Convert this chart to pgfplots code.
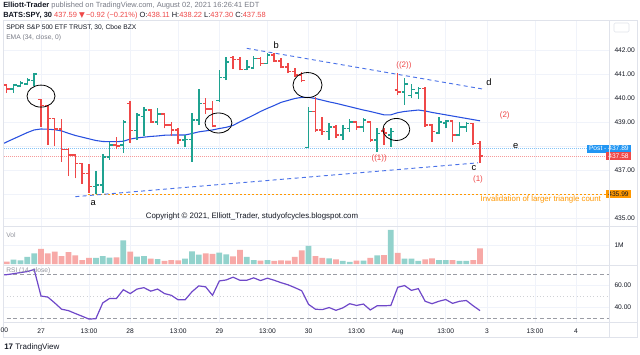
\documentclass[border=0pt]{standalone}
\usepackage{pgfplots}
\pgfplotsset{compat=1.18}
\usepackage{pgfplotstable}
\usepackage{fontspec}
\setmainfont{Liberation Sans}
\newfontfamily\dejavu{DejaVu Sans}

\definecolor{upc}{HTML}{1FA290}
\definecolor{dnc}{HTML}{EF4848}
\definecolor{vup}{HTML}{92D2CC}
\definecolor{vdn}{HTML}{F7A9A7}
\definecolor{emac}{HTML}{2850E0}
\definecolor{trendc}{HTML}{4A72E8}
\definecolor{rsic}{HTML}{6F48C9}
\definecolor{gridc}{HTML}{F0F3FA}
\definecolor{framec}{HTML}{E0E3EB}
\definecolor{txtc}{HTML}{131722}
\definecolor{grayc}{HTML}{787B86}
\definecolor{orc}{HTML}{FF9800}
\definecolor{postc}{HTML}{2196F3}

\newcommand\tvs{\fontsize{5}{6}\selectfont}
\newcommand\tvh{\fontsize{5.6}{6.6}\selectfont}
\newcommand\tvc{\fontsize{5.9}{6.9}\selectfont}
\newcommand\tva{\fontsize{7}{8}\selectfont}
\newcommand\tvr{\fontsize{6}{7}\selectfont}

\pgfdeclareplotmark{otick}{%
  \pgfpathmoveto{\pgfqpoint{-\pgfplotmarksize}{0pt}}%
  \pgfpathlineto{\pgfqpoint{0pt}{0pt}}%
  \pgfusepathqstroke}
\pgfdeclareplotmark{ctick}{%
  \pgfpathmoveto{\pgfqpoint{0pt}{0pt}}%
  \pgfpathlineto{\pgfqpoint{\pgfplotmarksize}{0pt}}%
  \pgfusepathqstroke}
\pgfdeclareplotmark{nomark}{}

% rising bars: index, open, high, low, close, volume (M)
\pgfplotstableread{
i o h l c v
-4 440.37 440.58 440.21 440.54 0.23
-3 440.50 440.72 440.45 440.62 0.19
-2 440.58 440.83 440.54 440.75 0.37
-1 440.72 441.05 440.50 441.00 0.56
8 436.31 436.96 435.99 436.38 0.32
9 436.38 437.65 436.03 437.55 0.42
10 437.55 438.18 437.42 438.04 0.33
12 438.05 439.08 437.72 439.01 1.25
14 438.64 439.36 438.25 439.29 0.39
15 439.22 439.61 438.42 439.50 0.42
17 439.01 439.57 438.88 439.33 0.26
21 438.25 438.46 437.94 438.28 0.28
22 438.28 439.36 437.35 439.08 0.67
23 439.08 440.36 438.88 439.78 0.49
26 439.90 441.15 439.85 440.85 0.60
27 440.85 441.70 440.75 441.50 0.51
30 441.20 441.58 441.15 441.30 0.37
31 441.25 441.75 441.20 441.65 0.21
33 441.45 441.86 441.42 441.80 0.21
39 437.93 439.64 437.90 439.43 0.95
42 438.60 438.94 438.25 438.80 0.30
44 438.46 438.88 438.25 438.74 0.16
45 438.74 439.11 438.60 439.00 0.11
47 438.80 439.15 438.60 439.08 0.18
49 438.25 438.74 437.76 438.53 0.46
51 438.45 438.74 437.97 438.60 1.79
53 440.26 440.82 439.71 440.58 0.28
54 440.10 440.60 440.00 440.35 0.28
55 440.20 440.45 439.95 440.40 0.16
58 438.55 439.19 438.50 439.01 0.21
59 438.95 439.10 438.75 439.05 0.21
61 438.46 439.01 438.40 438.80 0.16
62 438.80 439.01 438.60 438.94 0.16
}\upbars

% falling bars
\pgfplotstableread{
i o h l c v
-5 440.54 440.58 440.20 440.37 0.12
0 439.94 439.96 438.80 439.68 0.79
1 439.68 439.70 438.04 439.15 0.56
2 439.15 439.17 438.00 438.70 0.65
3 438.70 439.12 437.35 437.86 0.42
4 437.86 437.90 436.75 437.62 0.63
5 437.62 437.65 436.65 437.28 0.46
6 437.28 437.28 436.42 436.86 0.21
7 436.86 437.25 436.06 436.31 0.32
11 438.04 438.39 437.86 438.00 0.35
13 439.78 439.88 438.14 438.64 0.65
16 439.50 439.53 438.97 439.01 0.28
18 439.33 439.36 438.74 438.88 0.16
19 438.88 439.01 438.42 438.67 0.21
20 438.67 438.74 438.08 438.25 0.19
24 439.78 439.99 439.35 439.55 0.56
25 439.55 439.88 438.78 438.83 0.53
28 441.70 441.75 441.20 441.60 0.40
29 441.60 441.72 441.15 441.20 0.74
32 441.65 441.72 441.35 441.45 0.18
34 441.80 441.86 441.50 441.55 0.16
35 441.55 441.65 441.24 441.30 0.19
36 441.30 441.44 441.03 441.10 0.18
37 441.10 441.24 440.89 440.95 0.37
38 440.95 441.10 440.65 440.72 0.72
40 439.43 440.05 438.60 438.67 0.42
41 438.67 439.22 438.46 438.60 0.32
43 438.80 438.88 438.32 438.46 0.25
46 439.00 439.05 438.67 438.80 0.18
48 439.00 439.05 438.18 438.25 0.32
50 438.62 438.74 438.04 438.55 0.47
52 440.33 441.03 440.12 440.26 0.58
56 440.40 440.45 438.80 438.88 0.25
57 438.88 438.90 438.18 438.60 0.30
60 439.05 439.10 438.18 438.46 0.21
63 438.94 438.97 438.05 438.11 0.21
64 438.11 438.22 437.30 437.58 0.82
}\dnbars

% EMA(34) and RSI(14)
\pgfplotstableread{
i ema rsi
-6 438.03 68.9
-5 438.17 69.4
-4 438.30 70.3
-3 438.43 71.3
-2 438.56 72.2
-1 438.67 74.1
0 438.71 50.0
1 438.70 49.0
2 438.68 43.7
3 438.63 38.0
4 438.53 36.7
5 438.44 34.1
6 438.37 31.6
7 438.30 29.0
8 438.23 29.4
9 438.19 43.7
10 438.18 47.8
11 438.18 47.8
12 438.20 55.7
13 438.29 52.2
14 438.34 56.3
15 438.37 57.6
16 438.40 54.4
17 438.42 56.3
18 438.45 52.2
19 438.46 50.6
20 438.46 46.5
21 438.46 46.5
22 438.52 53.8
23 438.59 59.2
24 438.63 58.3
25 438.67 50.6
26 438.73 63.7
27 438.78 64.6
28 438.86 67.1
29 439.01 64.3
30 439.15 64.3
31 439.29 66.5
32 439.44 64.0
33 439.57 66.2
34 439.69 64.3
35 439.82 62.1
36 439.90 60.2
37 439.98 57.6
38 440.03 54.8
39 440.03 42.4
40 439.98 38.0
41 439.91 37.6
42 439.84 39.5
43 439.78 37.0
44 439.71 39.2
45 439.64 43.0
46 439.57 41.4
47 439.50 42.7
48 439.44 37.3
49 439.37 41.1
50 439.30 41.1
51 439.30 41.4
52 439.39 57.9
53 439.44 59.5
54 439.47 55.1
55 439.50 56.7
56 439.46 45.2
57 439.40 43.0
58 439.35 45.2
59 439.30 46.8
60 439.25 43.3
61 439.20 45.2
62 439.15 45.9
63 439.10 41.1
64 439.05 36.7
}\ind

\pgfplotsset{
 tv/.style={
   scale only axis, width=454.5pt,
   xmin=-5.54, xmax=82.8,
   axis line style={draw=none},
   major tick length=0pt,
   xtick={0,7,13,20,26,33,39,46,52,59,65,72,78},
   xmajorgrids, ymajorgrids,
   major grid style={draw=gridc, line width=0.6pt},
   clip mode=individual,
   yticklabel pos=right,
   ticklabel style={font=\tvs, text=txtc},
   yticklabel style={anchor=west, xshift=0.6pt},
 },
 hl/.style={only marks, mark=nomark, error bars/.cd, y dir=plus, y explicit,
   error mark=none, error bar style={#1, line width=1.15pt}},
 tk/.style={only marks, mark size=2.3pt, #1, mark options={line width=1.1pt}},
}

\begin{document}
\begin{tikzpicture}[x=0.75pt,y=0.75pt]
\useasboundingbox (0,0) rectangle (640,354);
\fill[white] (0,0) rectangle (640,354);

% ---------------- price pane ----------------
\begin{axis}[tv, at={(2.25pt,249.75pt)}, anchor=north west, height=153.75pt,
  ymin=434.667, ymax=443.21, ytick={435,436,437,438,439,440,441,442},
  yticklabels={435.00,{},437.00,{},439.00,440.00,441.00,442.00},
  xticklabels={}]
\addplot[postc!55, densely dotted, line width=0.5pt] coordinates {(-6,437.89) (83,437.89)};
\addplot[dnc!55, densely dotted, line width=0.5pt] coordinates {(-6,437.58) (83,437.58)};
\addplot[orc, dotted, line width=1pt] coordinates {(6.9,435.99) (82.8,435.99)};
\addplot[emac, line width=0.8pt] table[x=i, y=ema] {\ind};
\addplot[trendc, line width=0.7pt, dash pattern=on 3pt off 2.5pt] coordinates {(5,435.89) (63.7,437.30)};
\addplot[trendc, line width=0.7pt, dash pattern=on 3pt off 2.5pt] coordinates {(30,442.07) (64.7,440.36)};
% OHLC bars
\addplot[hl=upc] table[x=i, y=l, y error expr={\thisrow{h}-\thisrow{l}}] {\upbars};
\addplot[tk=upc, mark=otick] table[x=i, y=o] {\upbars};
\addplot[tk=upc, mark=ctick] table[x=i, y=c] {\upbars};
\addplot[hl=dnc] table[x=i, y=l, y error expr={\thisrow{h}-\thisrow{l}}] {\dnbars};
\addplot[tk=dnc, mark=otick] table[x=i, y=o] {\dnbars};
\addplot[tk=dnc, mark=ctick] table[x=i, y=c] {\dnbars};
% annotations
\draw[black, line width=0.6pt] (axis cs:0,440.08) ellipse [x radius=10.5pt, y radius=8.25pt];
\draw[black, line width=0.6pt] (axis cs:25.87,438.96) ellipse [x radius=10.1pt, y radius=7.5pt];
\draw[black, line width=0.6pt] (axis cs:38.85,440.54) ellipse [x radius=10.9pt, y radius=9.4pt];
\draw[black, line width=0.6pt] (axis cs:51.8,438.69) ellipse [x radius=10.1pt, y radius=8.25pt];
\node[font=\tva, text=black] at (axis cs:7.6,435.63) {a};
\node[font=\tva, text=black] at (axis cs:34.3,442.21) {b};
\node[font=\tva, text=black] at (axis cs:63.1,437.08) {c};
\node[font=\tva, text=black] at (axis cs:65.3,440.67) {d};
\node[font=\tva, text=black] at (axis cs:69.2,438.0) {e};
\node[font=\tvr, text=dnc] at (axis cs:52.9,441.375) {((2))};
\node[font=\tvr, text=dnc] at (axis cs:67.6,439.29) {(2)};
\node[font=\tvr, text=dnc] at (axis cs:49.3,437.5) {((1))};
\node[font=\tvr, text=dnc] at (axis cs:63.7,436.625) {(1)};
\node[font=\tvc, text=orc, anchor=east] at (axis cs:82.3,435.79) {Invalidation of larger triangle count};
\node[font=\tvc, text=txtc] at (axis cs:30.76,435.08) {Copyright © 2021, Elliott\_Trader, studyofcycles.blogspot.com};
\node[fill=postc, text=white, font=\tvs, inner xsep=1.5pt, inner ysep=1.2pt, anchor=east] at (axis cs:86,437.89) {Post - 437.89};
\node[fill=dnc, text=white, font=\tvs, inner xsep=1.5pt, inner ysep=1.2pt, anchor=east] at (axis cs:86,437.58) {437.58};
\node[fill=orc, text=txtc, font=\tvs, inner xsep=1.5pt, inner ysep=1.2pt, anchor=east] at (axis cs:86,435.99) {435.99};
\end{axis}

% ---------------- volume pane ----------------
\begin{axis}[tv, at={(2.25pt,96pt)}, anchor=north west, height=28.5pt,
  ymin=0, ymax=2.0, ytick={1}, yticklabels={1M}, xticklabels={}]
\addplot[ybar, bar width=4.3pt, bar shift=0pt, fill=vup, draw=none] table[x=i, y=v] {\upbars};
\addplot[ybar, bar width=4.3pt, bar shift=0pt, fill=vdn, draw=none] table[x=i, y=v] {\dnbars};
\end{axis}

% ---------------- RSI pane ----------------
\begin{axis}[tv, at={(2.25pt,66.75pt)}, anchor=north west, height=42.75pt,
  ymin=26.36, ymax=78.18, ytick={40,60}, yticklabels={40.00,60.00},
  xticklabels={27,13:00,28,13:00,29,13:00,30,13:00,Aug,13:00,3,13:00,4},
  xticklabel style={yshift=-1.6pt}]
\addplot[grayc!75, line width=0.6pt, dash pattern=on 3pt off 2pt] coordinates {(-6,70) (83,70)};
\addplot[grayc!75, line width=0.6pt, dash pattern=on 3pt off 2pt] coordinates {(-6,30) (83,30)};
\addplot[grayc!35, line width=0.5pt, dotted] coordinates {(-6,50) (83,50)};
\addplot[rsic, line width=0.9pt] table[x=i, y=rsi] {\ind};
\end{axis}

% ---------------- frame and texts ----------------
\draw[framec, line width=0.7pt] (3,333.5) rectangle (637,17);
\draw[framec, line width=0.7pt] (3,128) -- (637,128);
\draw[framec, line width=0.7pt] (3,89) -- (637,89);
\draw[framec, line width=0.7pt] (3,32) -- (637,32);
\draw[framec, line width=0.7pt] (609,333.5) -- (609,17);
\draw[framec, rounded corners=1pt] (614,331) rectangle (629,322);
\node[font=\tvs, text=txtc] at (-0.2,23.5) {13:00};

\node[anchor=west, inner sep=0pt, font=\tvh, text=txtc] at (3,348) {\textbf{Elliott-Trader} \textcolor{grayc}{published on TradingView.com, August 02, 2021 16:26:41 EDT}};
\node[anchor=west, inner sep=0pt, font=\tvh, text=txtc] at (3,338.5) {\textbf{BATS:SPY, 30} \textcolor{dnc}{437.59 {\dejavu ▼}\,−0.92 (−0.21\%)} O:\textcolor{dnc}{438.11} H:\textcolor{dnc}{438.22} L:\textcolor{dnc}{437.30} C:\textcolor{dnc}{437.58}};
\node[anchor=west, inner sep=0pt, font=\tvs, text=txtc] at (6,326) {SPDR S\&P 500 ETF TRUST, 30, Cboe BZX};
\node[anchor=west, inner sep=0pt, font=\tvs, text=grayc] at (6,316) {EMA (34, close, 0)};
\node[anchor=west, inner sep=0pt, font=\tvs, text=grayc!80] at (6,119) {Vol};
\node[anchor=west, inner sep=0pt, font=\tvs, text=grayc!80] at (6,83) {RSI (14, close)};
\node[anchor=west, inner sep=0pt, font=\fontsize{6}{7}\selectfont, text=txtc] at (4,7) {{\bfseries 17} TradingView};
\end{tikzpicture}
\end{document}
